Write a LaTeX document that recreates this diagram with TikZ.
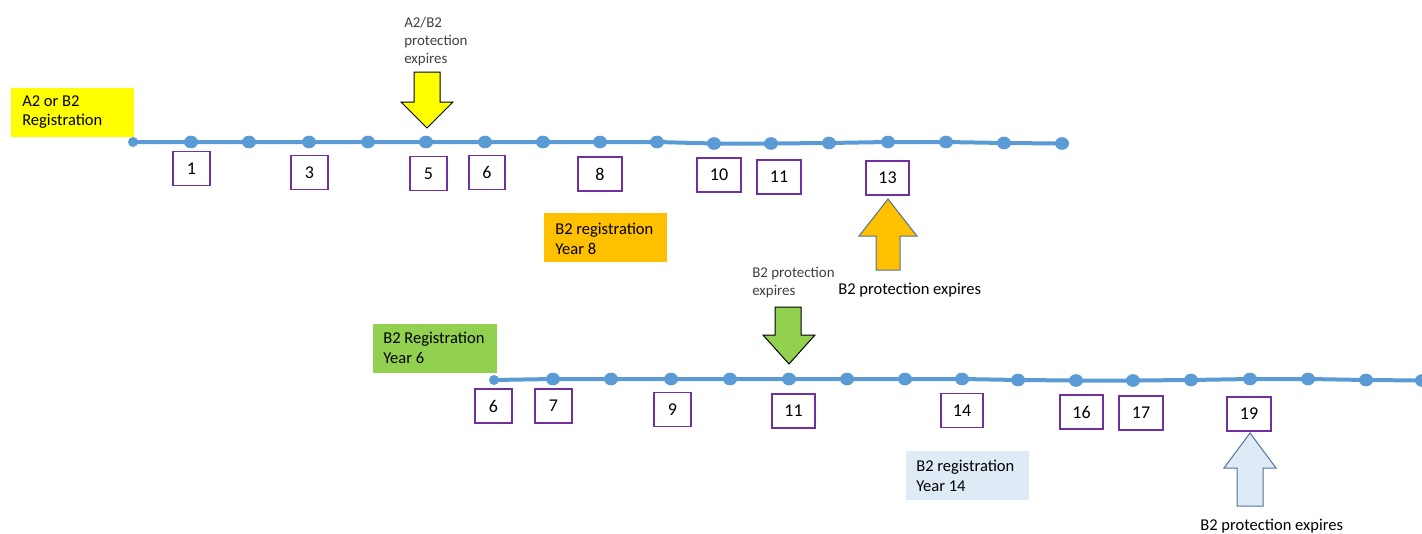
\documentclass[tikz,border=0pt]{standalone}
\usepackage{fontspec}
\setmainfont{Carlito}
\usetikzlibrary{shapes.geometric}
\definecolor{tlblue}{HTML}{5B9BD5}
\definecolor{boxpurple}{HTML}{7030A0}
\definecolor{cyellow}{HTML}{FFFF00}
\definecolor{corange}{HTML}{FFC000}
\definecolor{cgreen}{HTML}{92D050}
\definecolor{clblue}{HTML}{DEEBF7}
\definecolor{arrowedge}{HTML}{4F739C}
\definecolor{smalltext}{HTML}{404040}
\begin{document}
\begin{tikzpicture}[x=0.75pt,y=-0.75pt,
  tl/.style={line width=3pt, draw=tlblue},
  dotn/.style={ellipse, fill=tlblue, inner sep=0pt, minimum width=10.5pt, minimum height=9.5pt},
  enddot/.style={circle, fill=tlblue, inner sep=0pt, minimum size=7.5pt},
  yearbox/.style={draw=boxpurple, line width=0.9pt, fill=white, inner sep=0pt, minimum height=25.5pt, minimum width=#1*0.75pt, font=\fontsize{13.5}{15}\selectfont},
  lbl/.style={inner sep=0pt, anchor=north west, align=left, font=\fontsize{12.4}{14.6}\selectfont},
  smalllbl/.style={inner sep=0pt, anchor=north west, align=left, font=\fontsize{11.2}{13.5}\selectfont, text=smalltext},
  colbox/.style={inner sep=0pt, anchor=north west, minimum width=#1*0.75pt, minimum height=49*0.75pt},
  blkarrow/.style={draw=black, line width=0.75pt},
  bluarrow/.style={draw=arrowedge, line width=0.75pt},
]
\useasboundingbox (0,0) rectangle (1422,533);

% coloured label backgrounds
\node[colbox=123, fill=cyellow] (yb) at (11,88) {};
\node[colbox=123, fill=corange] (ob) at (544,213) {};
\node[colbox=124, fill=cgreen] (gb) at (373,324) {};
\node[colbox=123, fill=clblue] (lb) at (906,451) {};

\node[lbl] (yt) at (22,95) {A2 or B2\\Registration};
\node[lbl] (ot) at (555,223) {B2 registration\\Year 8};
\node[lbl] (gt) at (383,332) {B2 Registration\\Year 6};
\node[lbl] (lt) at (916,460) {B2 registration\\Year 14};

% top timeline
\foreach \x/\y [count=\i] in {133/142,191/142,249/142,309/142,368/142,426/142,485/142,543/142,600/142,657/142,714/143.5,771/143.5,829/143,888/142,946/142,1004/143,1062/143.5}
  \coordinate (t\i) at (\x,\y);
\draw[tl] (t1) \foreach \i in {2,...,17} { -- (t\i) };
\node[enddot] (td1) at (t1) {};
\foreach \i in {2,...,17} \node[dotn] (td\i) at (t\i) {};

% bottom timeline
\foreach \x/\y [count=\i] in {494/380,553/379,611/379,671/379,730/379,789/379,847/379,905/379,962/379,1018/380,1076/380.5,1133/380.5,1191/380,1250/379,1308/379,1366/380,1422/380.5}
  \coordinate (b\i) at (\x,\y);
\draw[tl] (b1) \foreach \i in {2,...,17} { -- (b\i) };
\node[enddot] (bd1) at (b1) {};
\foreach \i in {2,...,17} \node[dotn] (bd\i) at (b\i) {};

% top year boxes
\node[yearbox=37] (y1)  at (191.5,168.5) {1};
\node[yearbox=37] (y3)  at (309.5,172.5) {3};
\node[yearbox=37] (y5)  at (428.5,173.5) {5};
\node[yearbox=36] (y6)  at (487,172.5) {6};
\node[yearbox=44] (y8)  at (600,174) {8};
\node[yearbox=44] (y10) at (719,175) {10};
\node[yearbox=44] (y11) at (779,177) {11};
\node[yearbox=43] (y13) at (887.5,178) {13};

% bottom year boxes
\node[yearbox=37] (z6)  at (493.5,406) {6};
\node[yearbox=37] (z7)  at (553.5,406) {7};
\node[yearbox=37] (z9)  at (672.5,409.5) {9};
\node[yearbox=43] (z11) at (793.5,411) {11};
\node[yearbox=42] (z14) at (962,410.5) {14};
\node[yearbox=43] (z16) at (1081.5,412) {16};
\node[yearbox=44] (z17) at (1141,413) {17};
\node[yearbox=44] (z19) at (1249,414) {19};

% arrows
\draw[blkarrow, fill=cyellow] (414,72) -- (440,72) -- (440,102) -- (453,102) -- (427,128) -- (401,102) -- (414,102) -- cycle;
\draw[bluarrow, fill=corange] (876,270) -- (900,270) -- (900,236) -- (917,236) -- (888,199) -- (859,236) -- (876,236) -- cycle;
\draw[blkarrow, fill=cgreen] (775,307) -- (801,307) -- (801,335) -- (815,335) -- (789,364) -- (763,335) -- (775,335) -- cycle;
\draw[bluarrow, fill=clblue] (1237,506) -- (1263,506) -- (1263,468) -- (1276,468) -- (1250,433) -- (1224,468) -- (1237,468) -- cycle;

% arrow captions
\node[smalllbl] (cap1) at (404,17) {A2/B2\\protection\\expires};
\node[smalllbl] (cap2) at (752,267) {B2 protection\\expires};
\node[lbl] (cap3) at (838,283) {B2 protection expires};
\node[lbl] (cap4) at (1200,519) {B2 protection expires};
\end{tikzpicture}
\end{document}
